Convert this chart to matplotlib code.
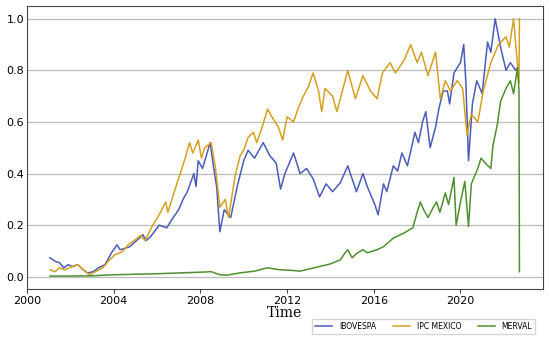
import matplotlib
matplotlib.use("Agg")
import matplotlib.pyplot as plt

# normalised index levels
ibov_t = [2001.06, 2001.3, 2001.5, 2001.7, 2001.9, 2002.1, 2002.35, 2002.6, 2002.8, 2003.05,
          2003.3, 2003.6, 2003.9, 2004.15, 2004.3, 2004.5, 2004.75, 2005.1, 2005.35, 2005.5,
          2005.7, 2006.1, 2006.45, 2006.75, 2007.0, 2007.2, 2007.4, 2007.7, 2007.8, 2007.9,
          2008.1, 2008.45, 2008.6, 2008.75, 2008.9, 2009.1, 2009.4, 2009.7, 2010.0, 2010.2,
          2010.5, 2010.9, 2011.2, 2011.5, 2011.7, 2011.9, 2012.3, 2012.6, 2012.9, 2013.2,
          2013.5, 2013.8, 2014.1, 2014.46, 2014.8, 2015.0, 2015.2, 2015.5, 2015.7, 2015.9,
          2016.05, 2016.2, 2016.45, 2016.6, 2016.9, 2017.1, 2017.3, 2017.55, 2017.9, 2018.06,
          2018.25, 2018.4, 2018.6, 2018.85, 2019.0, 2019.2, 2019.4, 2019.5, 2019.7, 2020.0,
          2020.15, 2020.25, 2020.37, 2020.55, 2020.75, 2021.0, 2021.25, 2021.4, 2021.6, 2021.85,
          2022.1, 2022.3, 2022.55, 2022.7]
ibov_v = [0.074, 0.06, 0.055, 0.035, 0.047, 0.04, 0.047, 0.027, 0.015, 0.02,
          0.035, 0.047, 0.093, 0.124, 0.105, 0.11, 0.117, 0.144, 0.163, 0.14,
          0.155, 0.2, 0.19, 0.23, 0.26, 0.30, 0.33, 0.40, 0.35, 0.45,
          0.42, 0.52, 0.43, 0.35, 0.175, 0.26, 0.23, 0.35, 0.45, 0.49,
          0.46, 0.52, 0.47, 0.44, 0.34, 0.40, 0.48, 0.40, 0.42, 0.38,
          0.31, 0.36, 0.33, 0.365, 0.43, 0.38, 0.33, 0.40, 0.35, 0.31,
          0.28, 0.24, 0.36, 0.33, 0.43, 0.41, 0.48, 0.43, 0.56, 0.52,
          0.60, 0.64, 0.50, 0.58, 0.65, 0.72, 0.72, 0.67, 0.79, 0.83,
          0.90, 0.75, 0.45, 0.67, 0.76, 0.71, 0.91, 0.87, 1.0, 0.89,
          0.80, 0.83, 0.80, 0.82]

ipc_t = [2001.06, 2001.3, 2001.5, 2001.75, 2002.1, 2002.35, 2002.7, 2002.9, 2003.15, 2003.5,
         2003.75, 2004.05, 2004.4, 2004.67, 2005.0, 2005.25, 2005.45, 2005.8, 2006.1, 2006.4,
         2006.5, 2006.8, 2007.07, 2007.3, 2007.5, 2007.65, 2007.9, 2008.05, 2008.2, 2008.5,
         2008.7, 2008.9, 2009.15, 2009.3, 2009.6, 2009.84, 2010.0, 2010.2, 2010.45, 2010.6,
         2010.85, 2011.1, 2011.37, 2011.6, 2011.8, 2012.0, 2012.3, 2012.5, 2012.75, 2013.0,
         2013.2, 2013.45, 2013.6, 2013.75, 2014.1, 2014.3, 2014.55, 2014.8, 2015.15, 2015.5,
         2015.85, 2016.15, 2016.4, 2016.75, 2017.0, 2017.4, 2017.7, 2018.0, 2018.2, 2018.5,
         2018.85, 2019.07, 2019.3, 2019.54, 2019.85, 2020.1, 2020.3, 2020.5, 2020.8, 2021.05,
         2021.4, 2021.75, 2022.1, 2022.25, 2022.45, 2022.6, 2022.7, 2022.72]
ipc_v = [0.027, 0.02, 0.035, 0.027, 0.04, 0.047, 0.02, 0.008, 0.02, 0.035,
         0.06, 0.085, 0.097, 0.124, 0.144, 0.16, 0.14, 0.2, 0.24, 0.29,
         0.25, 0.33, 0.40, 0.46, 0.52, 0.48, 0.53, 0.46, 0.50, 0.52,
         0.42, 0.27, 0.30, 0.23, 0.39, 0.47, 0.49, 0.54, 0.56, 0.52,
         0.58, 0.65, 0.61, 0.58, 0.53, 0.62, 0.60, 0.65, 0.70, 0.74,
         0.79, 0.72, 0.64, 0.73, 0.70, 0.64, 0.72, 0.80, 0.69, 0.78,
         0.72, 0.69, 0.79, 0.83, 0.79, 0.84, 0.90, 0.83, 0.87, 0.78,
         0.87, 0.69, 0.76, 0.72, 0.76, 0.73, 0.55, 0.63, 0.60, 0.72,
         0.83, 0.90, 0.93, 0.89, 1.0, 0.85, 0.75, 1.0]

merv_t = [2001.06, 2002.0, 2003.0, 2004.0, 2005.0, 2006.0, 2007.0, 2008.0, 2008.5, 2008.9,
          2009.2, 2009.8, 2010.5, 2011.1, 2011.6, 2012.2, 2012.6, 2013.0, 2013.5, 2014.0,
          2014.46, 2014.65, 2014.8, 2015.0, 2015.2, 2015.5, 2015.7, 2016.15, 2016.45, 2016.9,
          2017.4, 2017.8, 2018.0, 2018.15, 2018.3, 2018.5, 2018.75, 2018.9, 2019.05, 2019.3,
          2019.45, 2019.7, 2019.8, 2020.0, 2020.2, 2020.37, 2020.5, 2020.8, 2020.95, 2021.15,
          2021.4, 2021.5, 2021.7, 2021.85, 2022.1, 2022.3, 2022.45, 2022.63, 2022.7, 2022.72]
merv_v = [0.003, 0.003, 0.004, 0.008, 0.01, 0.012, 0.015, 0.018, 0.02, 0.008,
          0.006, 0.015, 0.022, 0.035, 0.028, 0.025, 0.022, 0.03, 0.04, 0.05,
          0.066, 0.09, 0.105, 0.074, 0.09, 0.105, 0.093, 0.105, 0.117, 0.15,
          0.17, 0.19, 0.25, 0.29, 0.26, 0.23, 0.27, 0.29, 0.25, 0.325,
          0.28, 0.385, 0.20, 0.29, 0.37, 0.195, 0.36, 0.42, 0.46, 0.44,
          0.42, 0.51, 0.59, 0.68, 0.73, 0.76, 0.71, 0.81, 0.72, 0.02]

fig = plt.figure(figsize=(5.5, 3.44), dpi=100)
ax = fig.add_axes([0.049, 0.160, 0.938, 0.823])

ax.plot(ibov_t, ibov_v, color='#4b5cb8', lw=1.1, label='IBOVESPA')
ax.plot(ipc_t, ipc_v, color='#d4a020', lw=1.1, label='IPC MEXICO')
ax.plot(merv_t, merv_v, color='#4f8f2f', lw=1.1, label='MERVAL')

ax.set_xlim(2000, 2023.8)
ax.set_ylim(-0.047, 1.05)
ax.set_xticks([2000, 2004, 2008, 2012, 2016, 2020])
ax.set_yticks([0.0, 0.2, 0.4, 0.6, 0.8, 1.0])
ax.tick_params(labelsize=8, length=3, color='#444444', pad=2)
ax.tick_params(axis='y', length=0)
ax.yaxis.grid(True, color='#bbbbbb', lw=0.9)
ax.set_axisbelow(True)
for s in ax.spines.values():
    s.set_color('#444444')

ax.set_xlabel('Time', family='DejaVu Serif', fontsize=10, labelpad=0)

fig.legend(loc='lower right', bbox_to_anchor=(0.98, 0.018), ncol=3, fontsize=5.5,
           handlelength=2.2, columnspacing=2.2, frameon=True, fancybox=False,
           edgecolor='#cccccc', borderpad=0.4, handletextpad=0.9)

fig.savefig('out.png', dpi=100)
